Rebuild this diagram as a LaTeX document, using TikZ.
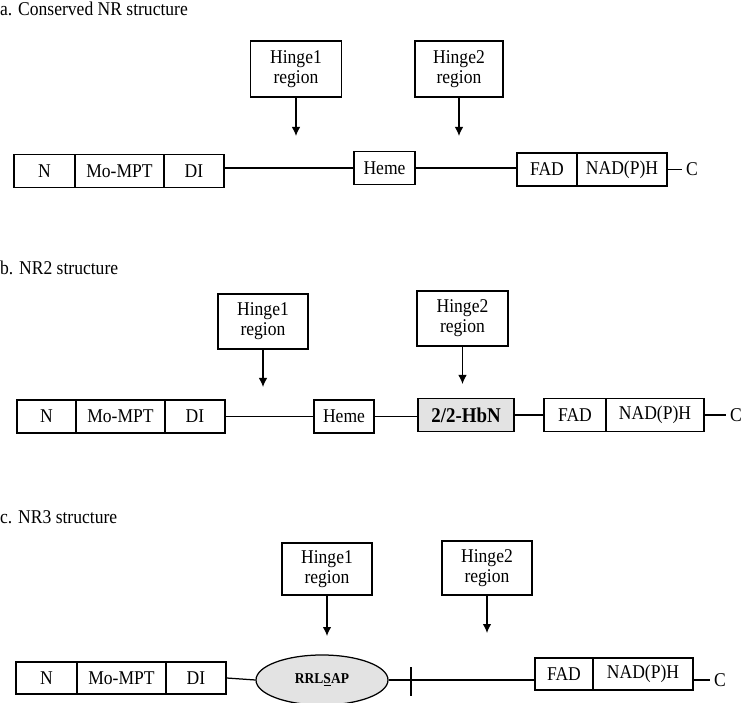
\documentclass[tikz,border=0pt]{standalone}
\usepackage{fontspec}
\setmainfont{Liberation Serif}[FakeStretch=0.9]
\usetikzlibrary{arrows.meta,shapes.geometric}
\begin{document}
\begin{tikzpicture}[x=1pt,y=-1pt,
  every node/.style={inner sep=0pt, font=\fontsize{19.5}{20}\selectfont},
  dom/.style={draw, line width=1.25pt, minimum height=33pt},
  hingebox/.style={draw, line width=1.25pt, align=center},
  link/.style={line width=1.25pt},
  arr/.style={line width=1.25pt, -{Latex[length=9pt,width=8.5pt]}},
  title/.style={anchor=base west},
  shaded/.style={fill=gray!22}
]
\path[use as bounding box] (0,0) rectangle (745,703);
\clip (0,0) rectangle (745,703);

% ---------- a ----------
\node[title] (ta) at (0,16) {a. Conserved NR structure};
\node[hingebox, minimum width=91pt, minimum height=56pt] (h1a) at (296,69) {Hinge1\\region};
\node[hingebox, minimum width=88pt, minimum height=56pt] (h2a) at (459,69) {Hinge2\\region};
\coordinate (p1a) at (296,136);
\coordinate (p2a) at (459,136);
\draw[arr] (h1a) -- (p1a);
\draw[arr] (h2a) -- (p2a);
\node[dom, minimum width=61pt] (Na) at (44.5,171) {N};
\node[dom, minimum width=89pt] (Ma) at (119.5,171) {Mo-MPT};
\node[dom, minimum width=60pt] (Da) at (194,171) {DI};
\node[dom, minimum width=61pt] (Ha) at (384.5,168) {Heme};
\node[dom, minimum width=60pt] (Fa) at (547,169.5) {FAD};
\node[dom, minimum width=90pt] (NADa) at (622,169.5) {NAD(P)H};
\coordinate (ea) at (682,169.5);
\node[anchor=west] (Ca) at (686,169.5) {C};
\draw[link] (Da.east |- Ha.west) -- (Ha.west);
\draw[link] (Ha.east) -- (Fa.west |- Ha.east);
\draw[link] (NADa.east) -- (ea);

% ---------- b ----------
\node[title] (tb) at (0,275) {b. NR2 structure};
\node[hingebox, minimum width=90pt, minimum height=55pt] (h1b) at (263,321.5) {Hinge1\\region};
\node[hingebox, minimum width=91pt, minimum height=55pt] (h2b) at (462.5,318.5) {Hinge2\\region};
\coordinate (p1b) at (263,387);
\coordinate (p2b) at (462.5,384);
\draw[arr] (h1b) -- (p1b);
\draw[arr] (h2b) -- (p2b);
\node[dom, minimum width=59pt] (Nb) at (46.5,416.5) {N};
\node[dom, minimum width=89pt] (Mb) at (120.5,416.5) {Mo-MPT};
\node[dom, minimum width=60pt] (Db) at (195,416.5) {DI};
\node[dom, minimum width=60pt] (Hb) at (344,416.5) {Heme};
\node[dom, shaded, minimum width=96pt, font=\fontsize{21}{22}\selectfont\bfseries] (HbN) at (466,415) {2/2-HbN};
\node[dom, minimum width=62pt] (Fb) at (575,415) {FAD};
\node[dom, minimum width=98pt] (NADb) at (655,415) {NAD(P)H};
\coordinate (eb) at (726,415);
\node[anchor=west] (Cb) at (730,415) {C};
\draw[link] (Db.east) -- (Hb.west);
\draw[link] (Hb.east) -- (HbN.west |- Hb.east);
\draw[link] (HbN.east) -- (Fb.west);
\draw[link] (NADb.east) -- (eb);

% ---------- c ----------
\node[title] (tc) at (0,523) {c. NR3 structure};
\node[hingebox, minimum width=90pt, minimum height=52pt] (h1c) at (327,569) {Hinge1\\region};
\node[hingebox, minimum width=90pt, minimum height=54pt] (h2c) at (487,568) {Hinge2\\region};
\coordinate (p1c) at (327,636);
\coordinate (p2c) at (487,633);
\draw[arr] (h1c) -- (p1c);
\draw[arr] (h2c) -- (p2c);
\node[dom, minimum width=61pt, minimum height=32pt] (Nc) at (46.5,678) {N};
\node[dom, minimum width=89pt, minimum height=32pt] (Mc) at (121.5,678) {Mo-MPT};
\node[dom, minimum width=60pt, minimum height=32pt] (Dc) at (196,678) {DI};
\node[ellipse, draw, line width=1.25pt, shaded, minimum width=132pt, minimum height=50pt,
      font=\fontsize{15}{16}\selectfont\bfseries] (Ec) at (322,680) {RRL\underline{S}AP};
\node[dom, minimum width=58pt, minimum height=32pt] (Fc) at (564,674) {FAD};
\node[dom, minimum width=100pt, minimum height=32pt] (NADc) at (643,674) {NAD(P)H};
\coordinate (tk1) at (411,667);
\coordinate (tk2) at (411,696);
\coordinate (ec) at (710,680);
\node[anchor=west] (Cc) at (714,680) {C};
\draw[link] (Dc.east) -- (Ec.west);
\draw[link] (Ec.east) -- (Fc.west |- Ec.east);
\draw[link] (tk1) -- (tk2);
\draw[link] (NADc.east |- ec) -- (ec);
\end{tikzpicture}
\end{document}
